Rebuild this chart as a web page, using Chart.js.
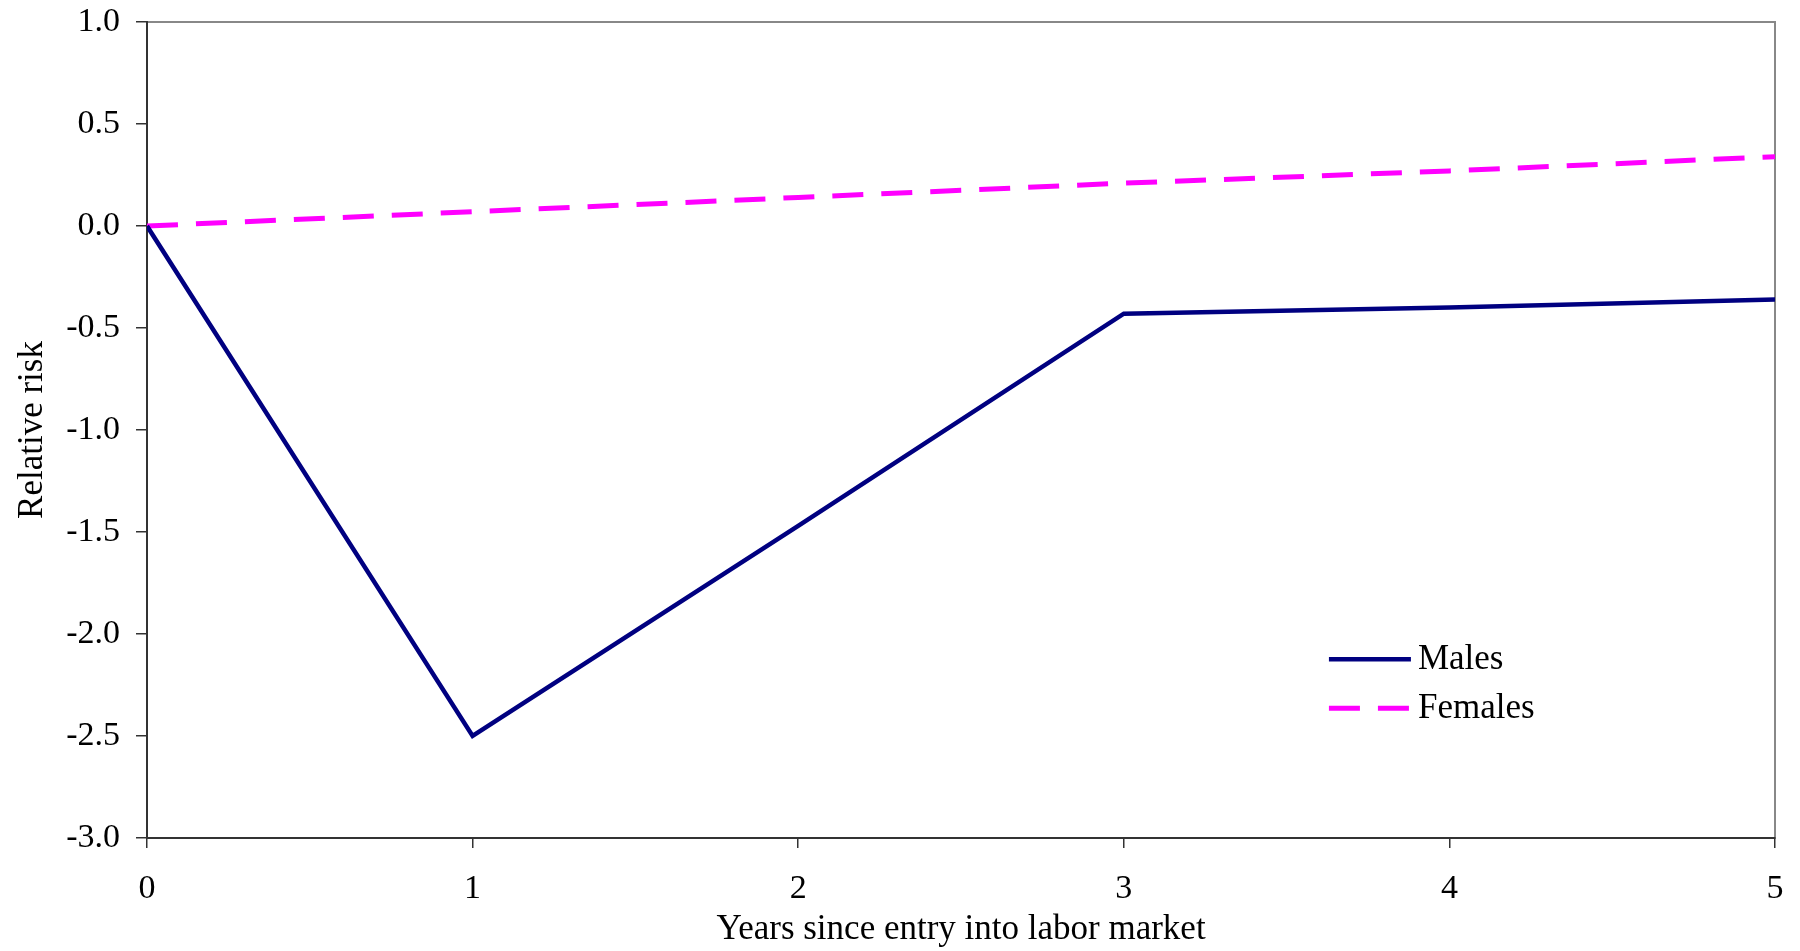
<!DOCTYPE html>
<html>
<head>
<meta charset="utf-8">
<script src="https://cdn.jsdelivr.net/npm/chart.js@4.4.1/dist/chart.umd.min.js"></script>
<style>
  html, body { margin: 0; padding: 0; background: #fff; }
  #wrap { width: 1800px; height: 951px; position: relative; }
</style>
</head>
<body>
<div id="wrap"><canvas id="riskChart"></canvas></div>
<script>
// years since entry
const years = [0, 1, 2, 3, 4, 5];
// relative risk values
const males = [0.0, -2.5, -1.47, -0.43, -0.40, -0.36];
const females = [0.0, 0.07, 0.14, 0.21, 0.27, 0.34];
const yTicks = [1.0, 0.5, 0.0, -0.5, -1.0, -1.5, -2.0, -2.5, -3.0];

const serif = "'Liberation Serif', 'Times New Roman', serif";

// gray frame on top / right, drawn before the axes so left & bottom stay dark
const framePlugin = {
    id: 'frame',
    beforeDraw(chart) {
        const a = chart.chartArea;
        const c = chart.ctx;
        c.save();
        c.strokeStyle = '#888888';
        c.lineWidth = 2;
        c.strokeRect(a.left, a.top, a.right - a.left, a.bottom - a.top);
        c.restore();
    }
};

// legend drawn inside the plot, positioned relative to the chart area
const legendPlugin = {
    id: 'innerLegend',
    afterDatasetsDraw(chart) {
        const a = chart.chartArea;
        const c = chart.ctx;
        const x0 = a.left + (a.right - a.left) * 0.726;
        const y0 = a.top + (a.bottom - a.top) * 0.781;
        chart.data.datasets.forEach(function (ds, i) {
            const y = y0 + i * 49;
            c.save();
            c.strokeStyle = ds.borderColor;
            c.lineWidth = ds.borderWidth;
            c.lineCap = 'butt';
            c.setLineDash(ds.borderDash || []);
            c.beginPath();
            c.moveTo(x0, y);
            c.lineTo(x0 + 82, y);
            c.stroke();
            c.setLineDash([]);
            c.fillStyle = '#000';
            c.font = '35px ' + serif;
            c.textBaseline = 'middle';
            c.fillText(ds.label, x0 + 89, y + 1);
            c.restore();
        });
    }
};

const ctx = document.getElementById('riskChart').getContext('2d');

new Chart(ctx, {
    type: 'line',
    data: {
        datasets: [{
            label: 'Males',
            data: years.map((x, i) => ({ x: x, y: males[i] })),
            borderColor: '#000080',
            borderWidth: 4.5,
            pointRadius: 0,
            tension: 0
        }, {
            label: 'Females',
            data: years.map((x, i) => ({ x: x, y: females[i] })),
            borderColor: '#FF00FF',
            borderWidth: 5,
            borderDash: [31, 18],
            pointRadius: 0,
            tension: 0
        }]
    },
    options: {
        responsive: true,
        maintainAspectRatio: false,
        animation: false,
        layout: { padding: { top: 22, right: 25, left: 0, bottom: 0 } },
        plugins: {
            legend: { display: false },
            tooltip: { enabled: false }
        },
        scales: {
            x: {
                type: 'linear',
                min: 0,
                max: 5,
                afterBuildTicks: function (s) { s.ticks = years.map(v => ({ value: v })); },
                afterFit: function (s) {
                    s.height = 113;
                    s.paddingLeft = 0;
                    s.paddingRight = 0;
                },
                border: { display: true, color: '#333333', width: 2 },
                grid: { drawOnChartArea: false, drawTicks: true, tickLength: 10, color: '#333333', lineWidth: 1.5 },
                ticks: { color: '#000', font: { family: serif, size: 34 }, padding: 21, maxRotation: 0 },
                title: {
                    display: true,
                    text: 'Years since entry into labor market',
                    color: '#000',
                    font: { family: serif, size: 35 },
                    padding: { top: 0, bottom: 0 }
                }
            },
            y: {
                min: -3,
                max: 1,
                afterBuildTicks: function (s) { s.ticks = yTicks.map(v => ({ value: v })); },
                afterFit: function (s) {
                    s.width = 147;
                    s.paddingTop = 0;
                    s.paddingBottom = 0;
                },
                border: { display: true, color: '#333333', width: 2 },
                grid: { drawOnChartArea: false, drawTicks: true, tickLength: 11, color: '#333333', lineWidth: 1.5 },
                ticks: {
                    color: '#000',
                    font: { family: serif, size: 34 },
                    padding: 16,
                    callback: function (v) { return Number(v).toFixed(1); }
                },
                title: {
                    display: true,
                    text: 'Relative risk',
                    color: '#000',
                    font: { family: serif, size: 35 },
                    padding: { top: 12, bottom: 0 }
                }
            }
        }
    },
    plugins: [framePlugin, legendPlugin]
});
</script>
</body>
</html>
